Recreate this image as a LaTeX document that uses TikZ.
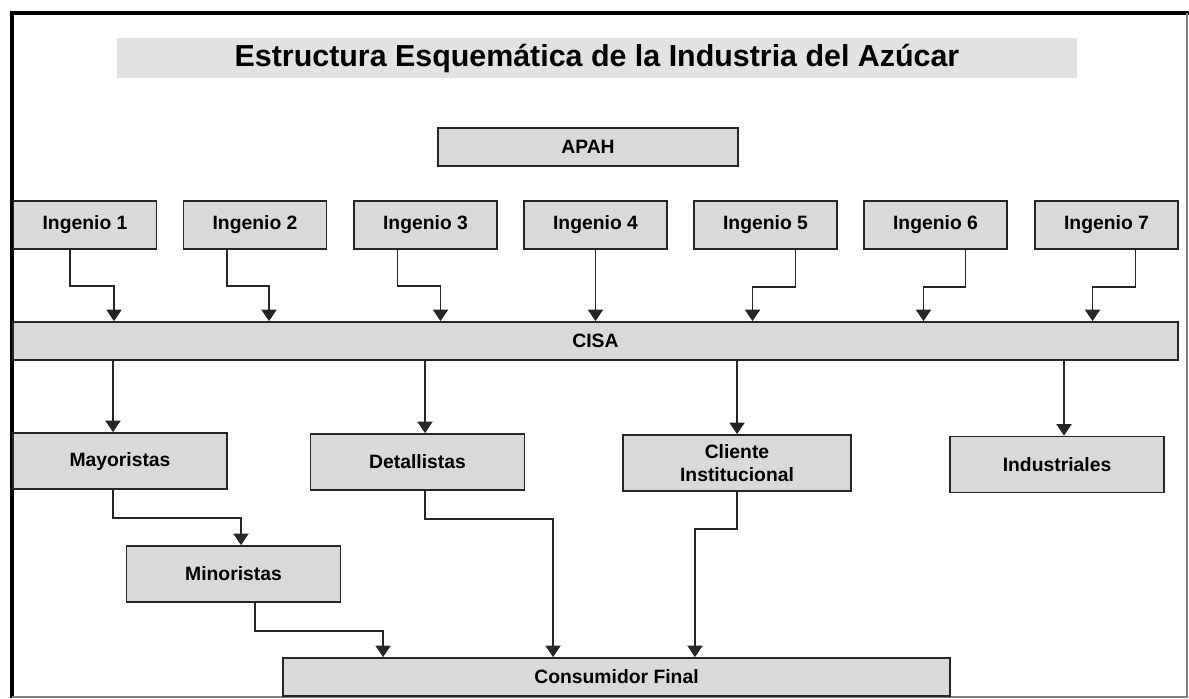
\documentclass[tikz,border=0pt]{standalone}
\usepackage{fontspec}
\setmainfont{Liberation Sans}
\usetikzlibrary{arrows.meta}
\definecolor{boxgray}{HTML}{D9D9D9}
\definecolor{titlegray}{HTML}{E2E2E2}
\begin{document}
\begin{tikzpicture}[x=0.02cm, y=-0.02cm, font=\bfseries\fontsize{11}{13}\selectfont]
\tikzstyle{box} = [rectangle, draw=black!85, line width=1pt, fill=boxgray, text centered, inner sep=0pt]
\tikzstyle{ingenio} = [box, minimum width=2.86cm, minimum height=0.96cm]
\tikzstyle{canal} = [box, minimum width=4.28cm, minimum height=1.12cm]
\tikzstyle{arrow} = [-{Triangle[width=8.5pt,length=6.5pt]}, line width=1pt, draw=black!85]

\useasboundingbox (0,0) rectangle (1189,698);
% marco
\draw [line width=2.6pt] (1189,13) -- (12,13) -- (12,698);
\draw [gray, line width=0.6pt] (1187,13) -- (1187,697) -- (12,697);

\node (Titulo) [fill=titlegray, minimum width=19.2cm, minimum height=0.8cm, font=\bfseries\fontsize{17.3}{20}\selectfont] at (597,58) {Estructura Esquemática de la Industria del Azúcar};
\node (APAH) [box, minimum width=6cm, minimum height=0.76cm] at (588,147) {APAH};

\node (Ingenio1) [ingenio] at (85,225) {Ingenio 1};
\node (Ingenio2) [ingenio] at (255,225) {Ingenio 2};
\node (Ingenio3) [ingenio] at (425.5,225) {Ingenio 3};
\node (Ingenio4) [ingenio] at (595.5,225) {Ingenio 4};
\node (Ingenio5) [ingenio] at (765.5,225) {Ingenio 5};
\node (Ingenio6) [ingenio] at (935.5,225) {Ingenio 6};
\node (Ingenio7) [ingenio] at (1106.5,225) {Ingenio 7};

\node (CISA) [box, minimum width=23.3cm, minimum height=0.76cm] at (595.5,341) {CISA};

\node (Mayoristas) [canal] at (120,461) {Mayoristas};
\node (Detallistas) [canal] at (417.5,462) {Detallistas};
\node (ClienteInstitucional) [canal, minimum width=4.56cm, align=center] at (737,463) {Cliente\\Institucional};
\node (Industriales) [canal] at (1057,464.5) {Industriales};
\node (Minoristas) [canal] at (233.5,574) {Minoristas};
\node (ConsumidorFinal) [box, minimum width=13.34cm, minimum height=0.76cm] at (616.5,677) {Consumidor Final};

% ingenios a CISA
\draw [arrow] ([xshift=-0.3cm]Ingenio1.south) -- ++(0,36) -| ([xshift=0.58cm]Ingenio1.south |- CISA.north);
\draw [arrow] ([xshift=-0.56cm]Ingenio2.south) -- ++(0,36) -| ([xshift=0.28cm]Ingenio2.south |- CISA.north);
\draw [arrow] ([xshift=-0.56cm]Ingenio3.south) -- ++(0,36) -| ([xshift=0.3cm]Ingenio3.south |- CISA.north);
\draw [arrow] (Ingenio4.south) -- (Ingenio4.south |- CISA.north);
\draw [arrow] ([xshift=0.6cm]Ingenio5.south) -- ++(0,37) -| ([xshift=-0.26cm]Ingenio5.south |- CISA.north);
\draw [arrow] ([xshift=0.6cm]Ingenio6.south) -- ++(0,37) -| ([xshift=-0.24cm]Ingenio6.south |- CISA.north);
\draw [arrow] ([xshift=0.58cm]Ingenio7.south) -- ++(0,37) -| ([xshift=-0.28cm]Ingenio7.south |- CISA.north);

% CISA a canales
\draw [arrow] ([xshift=-0.14cm]Mayoristas.north |- CISA.south) -- ([xshift=-0.14cm]Mayoristas.north);
\draw [arrow] ([xshift=0.15cm]Detallistas.north |- CISA.south) -- ([xshift=0.15cm]Detallistas.north);
\draw [arrow] (ClienteInstitucional.north |- CISA.south) -- (ClienteInstitucional.north);
\draw [arrow] ([xshift=0.14cm]Industriales.north |- CISA.south) -- ([xshift=0.14cm]Industriales.north);

% canales al consumidor
\draw [arrow] ([xshift=-0.14cm]Mayoristas.south) -- ++(0,28) -| ([xshift=0.15cm]Minoristas.north);
\draw [arrow] ([xshift=0.43cm]Minoristas.south) -- ++(0,28) -| ([xshift=-4.67cm]ConsumidorFinal.north);
\draw [arrow] ([xshift=0.15cm]Detallistas.south) -- ++(0,28) -| ([xshift=-1.27cm]ConsumidorFinal.north);
\draw [arrow] (ClienteInstitucional.south) -- ++(0,37) -| ([xshift=1.57cm]ConsumidorFinal.north);

\end{tikzpicture}
\end{document}
